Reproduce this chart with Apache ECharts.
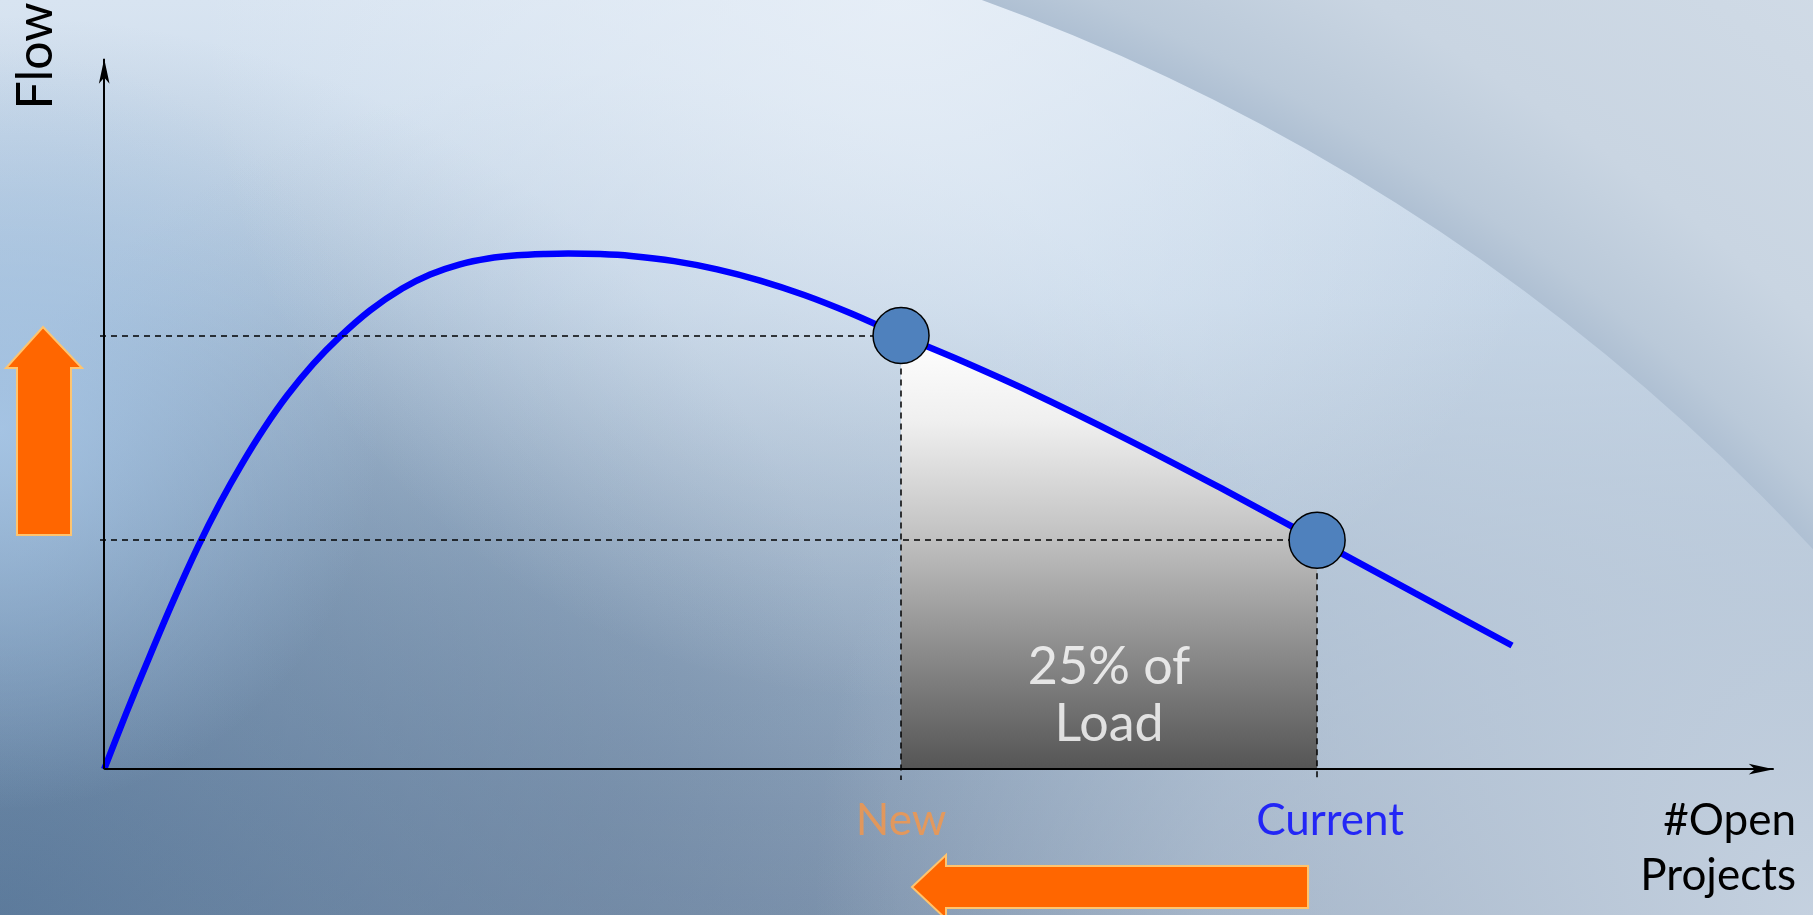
<!DOCTYPE html>
<html><head><meta charset="utf-8">
<script src="https://cdn.jsdelivr.net/npm/echarts@6/dist/echarts.min.js"></script>
<style>html,body{margin:0;padding:0;width:1813px;height:915px;overflow:hidden}#c{width:1813px;height:915px}</style>
</head><body><div id="c"></div>
<script>
// ---- data ----
const curveX = [0, 1.31, 2.68, 4.10, 5.59, 6.90, 8.15, 9.51, 10.88, 12.43, 13.97, 15.81, 17.72, 19.38, 21.11, 22.83, 24.55, 26.22, 27.59, 29.49, 31.33, 33.89, 36.44, 39.00, 41.62, 44.35, 47.38, 50.89, 55.05, 60.70, 66.41, 72.12, 77.94, 83.71];
const curveY = [0, 7.75, 15.49, 23.24, 30.84, 36.87, 42.05, 47.14, 51.66, 56.04, 59.71, 63.44, 66.46, 68.40, 69.77, 70.61, 71.05, 71.24, 71.31, 71.23, 70.97, 70.25, 69.12, 67.57, 65.57, 63.08, 59.97, 56.54, 52.19, 45.75, 38.85, 31.67, 24.34, 17.10];
const pointNames = ['New', 'Current'];
const pointX = [47.38, 72.12];
const pointY = [59.97, 31.67];
const loadLabel = '25% of\nLoad';
const loadLabelY = 10.2;
const xAxisTitle = '#Open\nProjects';
const yAxisTitle = 'Flow';
const axisEnds = {x: 99.27, y: 98.25};   // arrow centres (tip at axis max)

const curve = curveX.map((x, i) => [x, curveY[i]]);
const segment = curve.filter(p => p[0] >= pointX[0] - 1e-6 && p[0] <= pointX[1] + 1e-6);

const FONT = 'Lato, "Open Sans", sans-serif';
const chart = echarts.init(document.getElementById('c'), null, {renderer: 'canvas'});
const G = echarts.graphic;

const bg = [
  {type: 'rect', z: -20, shape: {x: 0, y: 0, width: 1813, height: 915},
   style: {fill: new G.LinearGradient(0, 0, 0, 1, [
     {offset: 0, color: '#d8e4f1'}, {offset: 0.33, color: '#c2d5e8'},
     {offset: 0.65, color: '#9fb4ca'}, {offset: 1, color: '#8499b2'}])}},
  {type: 'rect', z: -19, shape: {x: 0, y: 0, width: 1813, height: 915},
   style: {fill: new G.RadialGradient(0, 915, 900, [
     {offset: 0, color: 'rgba(78,112,148,0.75)'}, {offset: 1, color: 'rgba(78,112,148,0)'}], true)}},
  {type: 'rect', z: -19, shape: {x: 0, y: 0, width: 1813, height: 915},
   style: {fill: new G.RadialGradient(600, 820, 750, [
     {offset: 0, color: 'rgba(105,128,156,0.35)'}, {offset: 1, color: 'rgba(105,128,156,0)'}], true)}},
  {type: 'rect', z: -18, shape: {x: 0, y: 0, width: 1813, height: 915},
   style: {fill: new G.RadialGradient(1813, 915, 1000, [
     {offset: 0, color: 'rgba(200,212,226,0.95)'}, {offset: 0.6, color: 'rgba(200,212,226,0.5)'},
     {offset: 1, color: 'rgba(200,212,226,0)'}], true)}},
  {type: 'rect', z: -17, shape: {x: 0, y: 0, width: 1813, height: 915},
   style: {fill: new G.RadialGradient(0, 430, 380, [
     {offset: 0, color: 'rgba(168,200,233,0.85)'}, {offset: 1, color: 'rgba(168,200,233,0)'}], true)}},
  {type: 'rect', z: -16, shape: {x: 0, y: 0, width: 1813, height: 915},
   style: {fill: new G.RadialGradient(900, 0, 700, [
     {offset: 0, color: 'rgba(233,240,248,0.8)'}, {offset: 1, color: 'rgba(233,240,248,0)'}], true)}},
  {type: 'ring', z: -15, shape: {cx: 262, cy: 1993, r: 2650, r0: 2119},
   style: {fill: new G.RadialGradient(262, 1993, 2650, [
     {offset: 0.80, color: '#afc0d3'}, {offset: 0.815, color: '#bac9d9'},
     {offset: 0.86, color: '#c9d5e2'}, {offset: 1, color: '#d3dde8'}], true)}},
  // up arrow
  {type: 'polygon', z: 1, shape: {points: [[43, 327], [82, 368], [71, 368], [71, 535], [17, 535], [17, 368], [6, 368]]},
   style: {fill: '#ff6600', stroke: '#ffc46e', lineWidth: 2}},
  // left arrow
  {type: 'polygon', z: 1, shape: {points: [[912, 887], [946, 855], [946, 866], [1308, 866], [1308, 908], [946, 908], [946, 919]]},
   style: {fill: '#ff6600', stroke: '#ffc46e', lineWidth: 2}},
  {type: 'text', z: 5, x: 36, y: 56, rotation: Math.PI / 2,
   style: {text: yAxisTitle, font: '50px ' + FONT, fill: '#000', align: 'center', verticalAlign: 'middle'}},
  {type: 'text', z: 5, x: 1796, y: 848,
   style: {text: xAxisTitle, font: '44px ' + FONT, fill: '#000', align: 'right', verticalAlign: 'middle', lineHeight: 55}}
];

const axisCommon = {
  type: 'value', axisLine: {show: false},
  splitLine: {show: false}, axisTick: {show: false}, axisLabel: {show: false}
};

const dash = {color: '#000', width: 1.5, type: [6, 5]};

chart.setOption({
  animation: false,
  grid: {left: 100, right: 27, top: 46, bottom: 135, containLabel: false},
  xAxis: Object.assign({min: -0.25, max: 100}, axisCommon),
  yAxis: Object.assign({min: -1.5, max: 100}, axisCommon),
  graphic: {elements: bg},
  series: [
    {
      type: 'line', name: 'load', data: segment, smooth: 0.3, symbol: 'none', z: 2,
      lineStyle: {width: 0, opacity: 0},
      areaStyle: {opacity: 1, origin: 0, color: new G.LinearGradient(0, 0, 0, 1, [
        {offset: 0, color: '#ffffff'}, {offset: 0.2, color: '#efefef'}, {offset: 0.45, color: '#c4c4c4'},
        {offset: 0.75, color: '#878787'}, {offset: 1, color: '#555555'}])}
    },
    {
      type: 'line', name: 'flow', data: curve, smooth: 0.3, symbol: 'none', z: 3,
      lineStyle: {color: '#0000ff', width: 6.5},
      markLine: {
        silent: true, symbol: ['none', 'arrow'], label: {show: false},
        lineStyle: {color: '#000', width: 2, type: 'solid'},
        data: [
          [{coord: [0, 0], symbol: 'none'}, {coord: [axisEnds.x, 0], symbol: 'arrow', symbolSize: [8, 25]}],
          [{coord: [0, 0], symbol: 'none'}, {coord: [0, axisEnds.y], symbol: 'arrow', symbolSize: [8, 25]}]
        ]
      }
    },
    {
      type: 'scatter', name: 'points', z: 5,
      data: pointX.map((x, i) => ({name: pointNames[i], value: [x, pointY[i]]})),
      symbolSize: 56,
      itemStyle: {color: '#4f81bd', borderColor: '#000', borderWidth: 1.5, opacity: 1},
      markLine: {
        silent: true, symbol: 'none', label: {show: false}, lineStyle: dash,
        data: [
          [{coord: [-0.25, pointY[0]]}, {coord: [pointX[0], pointY[0]]}],
          [{coord: [-0.25, pointY[1]]}, {coord: [pointX[1], pointY[1]]}],
          [{coord: [pointX[0], pointY[0]]}, {coord: [pointX[0], -1.5]}],
          [{coord: [pointX[1], pointY[1]]}, {coord: [pointX[1], -1.5]}]
        ]
      }
    },
    {
      type: 'scatter', name: 'labels', z: 6, silent: true, symbolSize: 1,
      itemStyle: {color: 'rgba(0,0,0,0)'},
      data: [
        {value: [pointX[0], 0], label: {formatter: pointNames[0], color: '#f79646', offset: [0, 52]}},
        {value: [pointX[1], 0], label: {formatter: pointNames[1], color: '#0000ff', offset: [13, 52]}},
        {value: [(pointX[0] + pointX[1]) / 2, loadLabelY],
         label: {formatter: loadLabel, color: '#ffffff', fontSize: 52, lineHeight: 57}}
      ],
      label: {show: true, position: 'inside', fontFamily: FONT, fontSize: 44, align: 'center', verticalAlign: 'middle',
              textBorderWidth: 0, textShadowBlur: 0}
    }
  ]
});
</script></body></html>
